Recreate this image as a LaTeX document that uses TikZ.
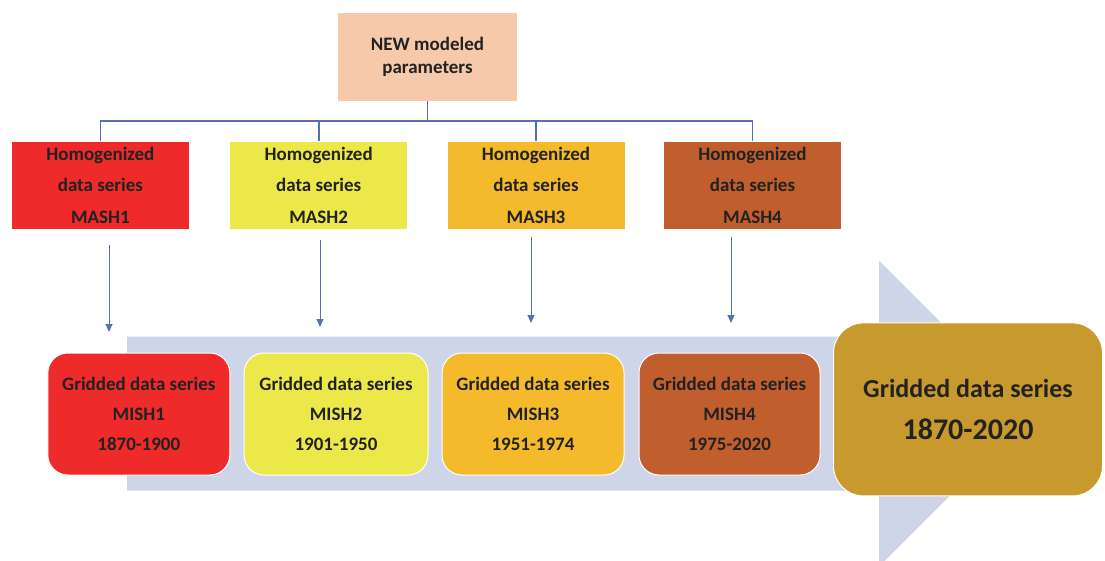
\documentclass[tikz,border=0pt]{standalone}
\usepackage{fontspec}
\setmainfont{Carlito}
\usetikzlibrary{arrows.meta}
\definecolor{peach}{HTML}{F6C9AB}
\definecolor{cred}{HTML}{EE2A2A}
\definecolor{cyel}{HTML}{EDE84A}
\definecolor{corg}{HTML}{F4BA2B}
\definecolor{cbrn}{HTML}{C05E2D}
\definecolor{cgold}{HTML}{C8992C}
\definecolor{band}{HTML}{CFD5E8}
\definecolor{linec}{HTML}{5572B0}
\definecolor{txt}{HTML}{222222}
\tikzset{
  mashbox/.style={rectangle, draw=white, line width=0.8pt, minimum width=178pt, minimum height=88pt, inner sep=0pt, align=center, text=txt, font=\bfseries\fontsize{19}{31.5}\selectfont},
  gridbox/.style={rectangle, rounded corners=20pt, draw=white, line width=1pt, minimum width=182pt, minimum height=122pt, inner sep=0pt, align=center, text=txt, font=\bfseries\fontsize{19}{30}\selectfont},
  tree/.style={draw=linec, line width=1.6pt},
  feed/.style={draw=linec, line width=1pt, -{Triangle[length=8pt,width=7pt]}}
}
\begin{document}
\begin{tikzpicture}[x=1pt,y=-1pt]
\useasboundingbox (0,0) rectangle (1105,561);
\begin{scope}
\clip (0,0) rectangle (1105,561);
\fill[band] (127,336.7) -- (879,336.7) -- (879,260.7) -- (1032,413.7) -- (879,566.7) -- (879,490.7) -- (127,490.7) -- cycle;
\end{scope}
\node[rectangle, fill=peach, minimum width=179pt, minimum height=88pt, inner sep=0pt, align=center, text=txt, font=\bfseries\fontsize{19}{23}\selectfont] (top) at (427.5,57) {NEW modeled\\parameters};
\node[mashbox, fill=cred] (m1) at (100.4,185) {Homogenized\\data series\\MASH1};
\node[mashbox, fill=cyel] (m2) at (318.7,185) {Homogenized\\data series\\MASH2};
\node[mashbox, fill=corg] (m3) at (536,185) {Homogenized\\data series\\MASH3};
\node[mashbox, fill=cbrn] (m4) at (752.5,185) {Homogenized\\data series\\MASH4};
\coordinate (bar) at (427.5,121);
\draw[tree] (top.south) -- (bar);
\draw[tree] (bar) -| (m1.north);
\draw[tree] (bar) -| (m2.north);
\draw[tree] (bar) -| (m3.north);
\draw[tree] (bar) -| (m4.north);
\node[gridbox, fill=cred] (g1) at (138.8,414) {Gridded data series\\MISH1\\1870-1900};
\node[gridbox, fill=cyel, minimum width=184pt] (g2) at (336,414) {Gridded data series\\MISH2\\1901-1950};
\node[gridbox, fill=corg] (g3) at (533,414) {Gridded data series\\MISH3\\1951-1974};
\node[gridbox, fill=cbrn, minimum width=181pt] (g4) at (729.5,414) {Gridded data series\\MISH4\\1975-2020};
\node[rectangle, rounded corners=30pt, fill=cgold, draw=white, line width=1pt, minimum width=269pt, minimum height=173pt, inner sep=0pt, align=center, text=txt, font=\bfseries\fontsize{30}{42}\selectfont] (fin) at (968,409.4) {{\fontsize{26}{30}\selectfont Gridded data series}\\1870-2020};
\coordinate (a1s) at (109,245); \coordinate (a1e) at (109,332);
\coordinate (a2s) at (320,240); \coordinate (a2e) at (320,327);
\coordinate (a3s) at (531,237); \coordinate (a3e) at (531,323);
\coordinate (a4s) at (731,237); \coordinate (a4e) at (731,323);
\draw[feed] (a1s) -- (a1e);
\draw[feed] (a2s) -- (a2e);
\draw[feed] (a3s) -- (a3e);
\draw[feed] (a4s) -- (a4e);
\end{tikzpicture}
\end{document}
